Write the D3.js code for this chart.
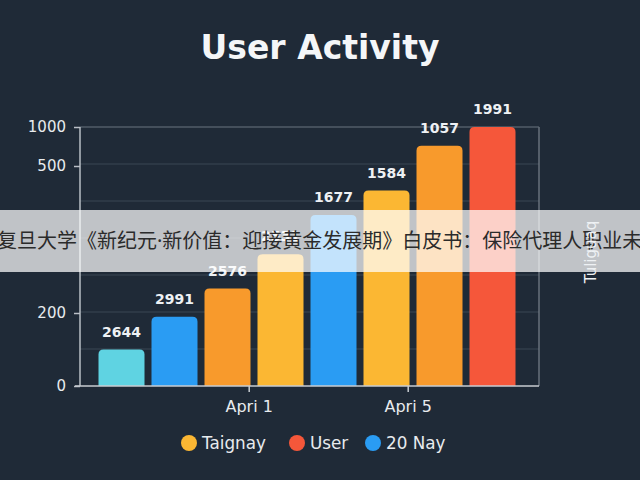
<!DOCTYPE html>
<html>
<head>
<meta charset="utf-8">
<script src="https://cdn.jsdelivr.net/npm/d3@7/dist/d3.min.js"></script>
<style>
  html, body { margin: 0; padding: 0; background: #1f2a37; }
  svg { display: block; }
</style>
</head>
<body>
<svg id="chart" width="640" height="480"></svg>
<script>
// ---- data ----
const title = "User Activity";
const barValues = [100, 190, 250, 320, 400, 450, 760, 1000];
const barLabels = ["2644", "2991", "2576", "2531", "1677", "1584", "1057", "1991"];
const yTickValues = [0, 200, 500, 1000];
const xTickPositions = [2.9, 5.9];
const xTickLabels = ["Apri 1", "Apri 5"];
const legendLabels = ["Taignay", "User", "20 Nay"];
const sideLabel = "Tuliguaq";
const bannerText = "复旦大学《新纪元·新价值：迎接黄金发展期》白皮书：保险代理人职业未来发展";

// ---- styles ----
const barColors = ["#5fd3e2", "#2a9cf3", "#f89a2c", "#fbb733", "#2a9cf3", "#fbb733", "#f89a2c", "#f5573a"];
const legendColors = ["#fbb733", "#f5573a", "#2a9cf3"];
const font = "'DejaVu Sans', sans-serif";

const svg = d3.select("#chart");
const W = 640, H = 480;
const plot = { left: 80, right: 539, top: 127, bottom: 386 };

svg.append("rect").attr("width", W).attr("height", H).attr("fill", "#1f2a37");

// scales
const y = d3.scaleLinear().domain([0, 200, 500, 1000]).range([386, 313, 166, 127]);
const x = d3.scaleLinear().domain([0, barValues.length]).range([95, 519]);
const grid = d3.scaleLinear().domain([0, 7]).range([plot.bottom, plot.top]);

// gridlines
svg.append("g").selectAll("line").data(d3.range(1, 8)).join("line")
  .attr("x1", plot.left).attr("x2", plot.right)
  .attr("y1", d => grid(d)).attr("y2", d => grid(d))
  .attr("stroke", "#3a4654").attr("stroke-width", 1.2);

// frame (right side)
svg.append("line").attr("x1", plot.right).attr("x2", plot.right)
  .attr("y1", plot.top).attr("y2", plot.bottom)
  .attr("stroke", "#7a838d").attr("stroke-width", 1.2);
svg.append("line").attr("x1", plot.left).attr("x2", plot.right)
  .attr("y1", plot.top).attr("y2", plot.top)
  .attr("stroke", "#5d6773").attr("stroke-width", 1.2);

// bars with rounded tops
const r = 5;
function barPath(x0, w, yTop, yBot) {
  return `M${x0},${yBot} L${x0},${yTop + r} Q${x0},${yTop} ${x0 + r},${yTop} L${x0 + w - r},${yTop} Q${x0 + w},${yTop} ${x0 + w},${yTop + r} L${x0 + w},${yBot} Z`;
}
const step = x(1) - x(0);
const bw = step - 7;
svg.append("g").selectAll("path").data(barValues).join("path")
  .attr("d", (d, i) => barPath(x(i) + 3.5, bw, y(d), y(0)))
  .attr("fill", (d, i) => barColors[i]);

// value labels
svg.append("g").selectAll("text").data(barValues).join("text")
  .attr("x", (d, i) => x(i + 0.5))
  .attr("y", d => y(d) - 13)
  .attr("text-anchor", "middle")
  .attr("font-family", font).attr("font-weight", "bold").attr("font-size", 14)
  .attr("fill", "#eef1f4")
  .text((d, i) => barLabels[i]);

// y axis
const yAxis = d3.axisLeft(y).tickValues(yTickValues).tickSize(6).tickPadding(8).tickFormat(d3.format("d"));
const gy = svg.append("g").attr("transform", `translate(${plot.left},0)`).call(yAxis);
gy.select(".domain").attr("stroke", "#b9bfc6").attr("stroke-width", 1.5).attr("d", `M0,${plot.top}V${plot.bottom}`);
gy.selectAll(".tick line").attr("stroke", "#b9bfc6").attr("stroke-width", 1.5);
gy.selectAll(".tick text").attr("font-family", font).attr("font-size", 15).attr("fill", "#e8ebee");

// x axis
const xAxis = d3.axisBottom(x).tickValues(xTickPositions).tickSize(6).tickPadding(9)
  .tickFormat((d, i) => xTickLabels[i]);
const gx = svg.append("g").attr("transform", `translate(0,${plot.bottom})`).call(xAxis);
gx.select(".domain").attr("stroke", "#c8cdd2").attr("stroke-width", 1.5).attr("d", `M${plot.left - 5},0H${plot.right}`);
gx.selectAll(".tick line").attr("stroke", "#c8cdd2").attr("stroke-width", 1.5);
gx.selectAll(".tick text").attr("font-family", font).attr("font-size", 16).attr("fill", "#e8ebee");

// title
svg.append("text").attr("x", 320).attr("y", 59).attr("text-anchor", "middle")
  .attr("font-family", font).attr("font-weight", "bold").attr("font-size", 33)
  .attr("fill", "#f4f6f8").text(title);

// legend
const legendX = [189, 297, 373];
const lg = svg.append("g").selectAll("g").data(legendLabels).join("g")
  .attr("transform", (d, i) => `translate(${legendX[i]},443)`);
lg.append("circle").attr("r", 8).attr("fill", (d, i) => legendColors[i]);
lg.append("text").attr("x", 13).attr("y", 6)
  .attr("font-family", font).attr("font-size", 16.8).attr("fill", "#e8ebee")
  .text(d => d);

// banner overlay
svg.append("rect").attr("x", 0).attr("y", 210).attr("width", W).attr("height", 62)
  .attr("fill", "rgba(255,255,255,0.72)");
svg.append("text").attr("x", -3).attr("y", 248)
  .attr("font-family", "'Noto Sans', 'Noto Sans CJK SC', sans-serif").attr("font-size", 20)
  .attr("fill", "#2b2b2b").text(bannerText);

// side label (rotated), drawn above the banner
svg.append("text").attr("transform", "translate(591,252) rotate(-90)")
  .attr("text-anchor", "middle").attr("dominant-baseline", "middle")
  .attr("font-family", font).attr("font-size", 15).attr("fill", "#eef1f4")
  .text(sideLabel);
</script>
</body>
</html>
